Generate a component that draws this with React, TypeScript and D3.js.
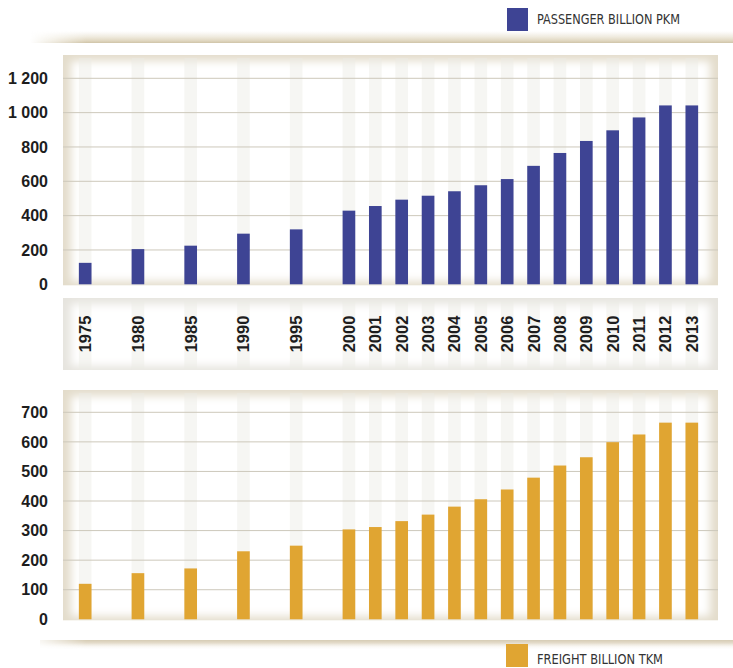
import { useEffect } from "react";
import * as d3 from "d3";

const years = [1975, 1980, 1985, 1990, 1995, 2000, 2001, 2002, 2003, 2004, 2005, 2006, 2007, 2008, 2009, 2010, 2011, 2012, 2013];
const passenger = [125, 205, 225, 295, 320, 429, 456, 493, 516, 542, 577, 613, 690, 765, 835, 897, 972, 1042, 1042];
const freight = [120, 156, 172, 230, 249, 304, 312, 332, 354, 381, 406, 439, 479, 520, 548, 599, 625, 665, 665];
const passengerTicks = [0, 200, 400, 600, 800, 1000, 1200];
const freightTicks = [0, 100, 200, 300, 400, 500, 600, 700];
const passengerLabel = "PASSENGER BILLION PKM";
const freightLabel = "FREIGHT BILLION TKM";

const W = 733;
const H = 668;
const panelLeft = 63;
const panelRight = 718;
const blue = "#3e4494";
const orange = "#e0a532";
const narrow = "'Liberation Sans Narrow', 'DejaVu Sans Condensed', sans-serif";
const bold = "'Liberation Sans', Arial, sans-serif";

// 5-year steps get an empty slot in between, yearly steps don't
const slots: string[] = [];
years.forEach((y, i) => {
  if (i > 0 && y - years[i - 1] > 1) slots.push(`gap-${y}`);
  slots.push(String(y));
});

const x = d3.scaleBand<string>().domain(slots).range([72, 705]).paddingInner(0.52).paddingOuter(0.26);

const spaceFmt = d3.formatLocale({ decimal: ",", thousands: " ", grouping: [3], currency: ["", ""] }).format(",d");

function Panel({ top, bottom, edge }: { top: number; bottom: number; edge: string }) {
  return (
    <g>
      <rect x={panelLeft} y={top} width={panelRight - panelLeft} height={bottom - top} fill={edge} />
      <rect x={panelLeft + 8} y={top + 6} width={panelRight - panelLeft - 16} height={bottom - top - 10} fill="#fff" filter="url(#soft)" />
      {years.map((yr) => (
        <rect key={yr} x={x(String(yr))!} y={top + 3} width={x.bandwidth()} height={bottom - top - 3} fill="#ebeae5" opacity={0.45} />
      ))}
    </g>
  );
}

function BarPanel({ values, ticks, y, top, color }: { values: number[]; ticks: number[]; y: d3.ScaleLinear<number, number>; top: number; color: string }) {
  const bottom = y(0);
  return (
    <g>
      <Panel top={top} bottom={bottom + 1} edge="#e3dccb" />
      {ticks.map((t) => (
        <g key={t}>
          {t > 0 && <line x1={panelLeft} x2={panelRight} y1={y(t)} y2={y(t)} stroke="#cdc8bb" strokeWidth={1} />}
          <text x={48} y={y(t)} dy="0.36em" textAnchor="end" fontFamily={bold} fontWeight="bold" fontSize={16} fill="#1d1d1d">
            {spaceFmt(t)}
          </text>
        </g>
      ))}
      {values.map((v, i) => (
        <rect key={years[i]} x={x(String(years[i]))!} y={y(v)} width={x.bandwidth()} height={bottom - y(v)} fill={color} />
      ))}
    </g>
  );
}

export default function App() {
  useEffect(() => {
    document.body.style.margin = "0";
  }, []);

  const yTop = d3.scaleLinear().domain([0, 1200]).range([284.3, 78.3]);
  const yBot = d3.scaleLinear().domain([0, 700]).range([619.3, 412.3]);

  return (
    <svg width={W} height={H} style={{ display: "block", background: "#fff" }}>
      <defs>
        <filter id="soft" x="-10%" y="-10%" width="120%" height="120%">
          <feGaussianBlur stdDeviation={4} />
        </filter>
        <linearGradient id="shelfTop" x1="0" y1="0" x2="0" y2="1">
          <stop offset="0" stopColor="#e8e1cf" stopOpacity={0} />
          <stop offset="0.8" stopColor="#ddd3ba" stopOpacity={0.9} />
          <stop offset="1" stopColor="#cfc4a8" />
        </linearGradient>
        <linearGradient id="shelfBot" x1="0" y1="0" x2="0" y2="1">
          <stop offset="0" stopColor="#d6ccb4" />
          <stop offset="0.3" stopColor="#e4dccb" />
          <stop offset="1" stopColor="#ffffff" stopOpacity={0} />
        </linearGradient>
        <linearGradient id="fadeLeft" x1="0" y1="0" x2="1" y2="0">
          <stop offset="0" stopColor="#fff" stopOpacity={0} />
          <stop offset="0.08" stopColor="#fff" stopOpacity={1} />
          <stop offset="1" stopColor="#fff" stopOpacity={1} />
        </linearGradient>
        <mask id="shelfMask">
          <rect x={30} y={0} width={W - 30} height={H} fill="url(#fadeLeft)" />
        </mask>
      </defs>

      {/* top shelf + legend */}
      <rect x={30} y={31} width={W - 30} height={12} fill="url(#shelfTop)" mask="url(#shelfMask)" />
      <rect x={507} y={8} width={21} height={23} fill={blue} />
      <text x={537} y={24} fontFamily={narrow} fontSize={14} fill="#333" textLength={143} lengthAdjust="spacingAndGlyphs">{passengerLabel}</text>

      <BarPanel values={passenger} ticks={passengerTicks} y={yTop} top={55} color={blue} />

      {/* year labels */}
      <Panel top={298} bottom={370} edge="#e6e4de" />
      {years.map((yr) => {
        const cx = x(String(yr))! + x.bandwidth() / 2;
        return (
          <text key={yr} transform={`translate(${cx},334) rotate(-90)`} textAnchor="middle" dy="0.36em" fontFamily={bold} fontWeight="bold" fontSize={16.5} fill="#1d1d1d">
            {yr}
          </text>
        );
      })}

      <BarPanel values={freight} ticks={freightTicks} y={yBot} top={390} color={orange} />

      {/* bottom shelf + legend */}
      <rect x={40} y={640} width={W - 40} height={10} fill="url(#shelfBot)" mask="url(#shelfMask)" />
      <rect x={506} y={644} width={22} height={23} fill={orange} />
      <text x={537} y={664} fontFamily={narrow} fontSize={14} fill="#333" textLength={126} lengthAdjust="spacingAndGlyphs">{freightLabel}</text>
    </svg>
  );
}
